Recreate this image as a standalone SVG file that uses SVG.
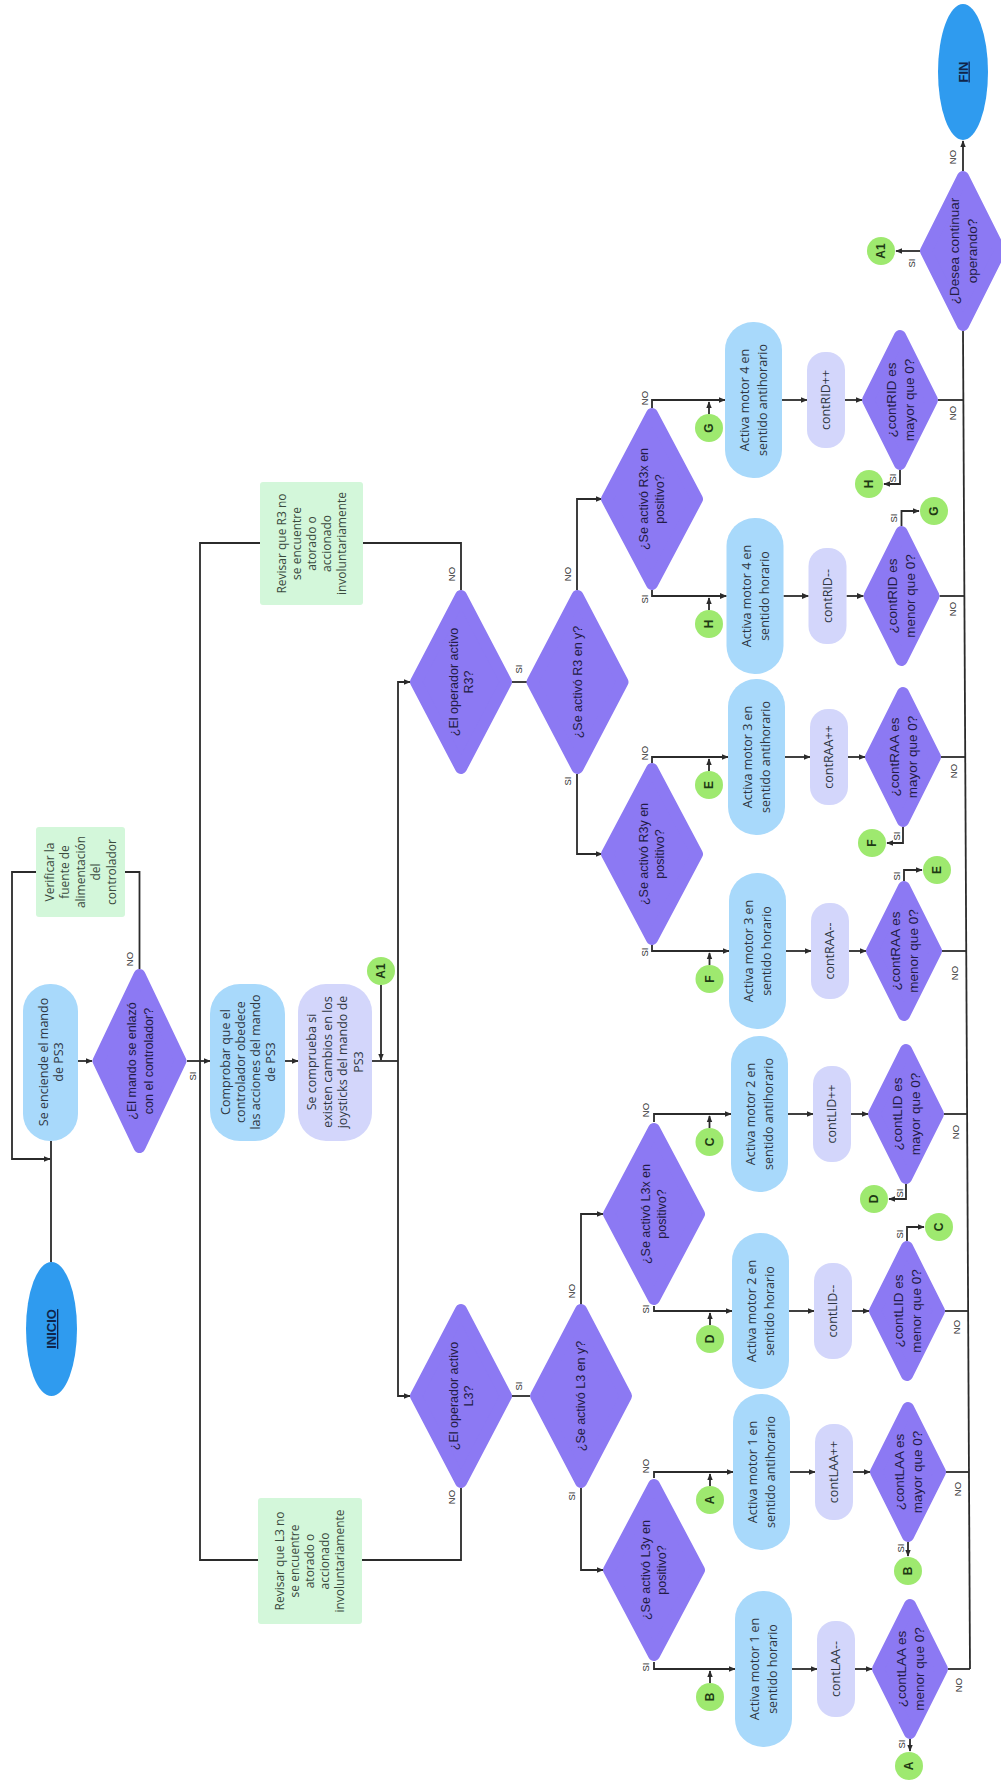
<svg xmlns="http://www.w3.org/2000/svg" width="1001" height="1791" viewBox="0 0 1001 1791">
<defs>
<marker id="ah" viewBox="0 0 10 10" refX="9" refY="5" markerWidth="4" markerHeight="4" orient="auto"><path d="M0,1 L10,5 L0,9 z" fill="#2b2b2b"/></marker>
<style>
.ln{fill:none;stroke:#2b2b2b;stroke-width:1.8}
.ar{fill:none;stroke:#2b2b2b;stroke-width:1.8;marker-end:url(#ah)}
.bl{fill:#a8d9fb}
.lv{fill:#d3d6fb}
.gr{fill:#d3f7da}
.dm{fill:#8c79f3;stroke:#8c79f3;stroke-width:12;stroke-linejoin:round}
.ci{fill:#9ee96f}
.el{fill:#2f9bef}
text{text-anchor:middle}
.t{font-family:"Open Sans","Liberation Sans",sans-serif;font-size:12.5px;fill:#2e3642}
.n{font-family:"Open Sans","Liberation Sans",sans-serif;font-size:12px;fill:#3a4a3e}
.d{font-family:"Liberation Sans",Arial,sans-serif;font-size:12.5px;fill:#231c45}
.dq{font-family:"Liberation Sans",Arial,sans-serif;font-size:13.5px;fill:#231c45}
.lb{font-family:"Liberation Sans",Arial,sans-serif;font-size:9.5px;fill:#333}
.c{font-family:"Liberation Sans",Arial,sans-serif;font-size:12px;font-weight:bold;fill:#1e3a14}
.se{font-family:"Liberation Sans",Arial,sans-serif;font-size:13px;font-weight:bold;fill:#10254a;text-decoration:underline}
</style>
</defs>
<rect width="1001" height="1791" fill="#ffffff"/>

<g id="connectors">
<path class="ln" d="M51,1262 V1141"/>
<path class="ar" d="M78,1061 H92"/>
<path class="ln" d="M139.5,969 V872 H125"/>
<path class="ar" d="M36,872 H12 V1159 H50"/>
<path class="ar" d="M187,1061 H210"/>
<path class="ar" d="M285,1061 H298"/>
<path class="ln" d="M372,1061 H398"/>
<path class="ar" d="M381,985 V1060"/>
<path class="ar" d="M398,1061 V682 H410"/>
<path class="ar" d="M398,1061 V1396 H410"/>
<path class="ln" d="M461,590 V543 H363"/>
<path class="ln" d="M260,543 H200 V1560 H258"/>
<path class="ln" d="M461,1488 V1560 H362"/>
<path class="ln" d="M512,682 H527"/>
<path class="ln" d="M512,1396 H530"/>
<path class="ar" d="M577,590 V499 H602"/>
<path class="ar" d="M577,774 V854 H602"/>
<path class="ar" d="M581,1305 V1214 H603"/>
<path class="ar" d="M581,1488 V1570 H603"/>
<path class="ar" d="M652,408 V400 H725"/>
<path class="ar" d="M652,590 V596 H726.5"/>
<path class="ar" d="M652,763 V757 H728"/>
<path class="ar" d="M652,945 V951 H729"/>
<path class="ar" d="M654,1122 V1114 H731"/>
<path class="ar" d="M654,1306 V1311 H732"/>
<path class="ar" d="M654,1478 V1472 H733"/>
<path class="ar" d="M654,1662 V1669 H735"/>
<path class="ar" d="M782,400 H807"/><path class="ar" d="M845,400 H862"/><path class="ln" d="M938,400 H963.4"/>
<path class="ar" d="M783.5,596 H808.5"/><path class="ar" d="M846.5,596 H863.5"/><path class="ln" d="M939.5,596 H964.4"/>
<path class="ar" d="M785,757 H810"/><path class="ar" d="M848,757 H865"/><path class="ln" d="M941,757 H965.2"/>
<path class="ar" d="M786,951 H811"/><path class="ar" d="M849,951 H866"/><path class="ln" d="M942,951 H966.2"/>
<path class="ar" d="M788,1114 H813"/><path class="ar" d="M851,1114 H868"/><path class="ln" d="M944,1114 H967.1"/>
<path class="ar" d="M789,1311 H814"/><path class="ar" d="M852,1311 H869"/><path class="ln" d="M945,1311 H968.1"/>
<path class="ar" d="M790,1472 H815"/><path class="ar" d="M853,1472 H870"/><path class="ln" d="M946,1472 H969"/>
<path class="ar" d="M792,1669 H817"/><path class="ar" d="M855,1669 H872"/><path class="ln" d="M948,1669 H970"/>
<path class="ar" d="M709,414 V402"/>
<path class="ar" d="M709,610 V598"/>
<path class="ar" d="M709,771 V759"/>
<path class="ar" d="M709.5,965 V953"/>
<path class="ar" d="M709.5,1128 V1116"/>
<path class="ar" d="M710,1325 V1313"/>
<path class="ar" d="M710,1486 V1474"/>
<path class="ar" d="M710,1683 V1671"/>
<path class="ar" d="M900,470 V484 H884"/>
<path class="ar" d="M901.5,526 V511 H919"/>
<path class="ar" d="M903,827 V843 H887"/>
<path class="ar" d="M904,881 V870 H922"/>
<path class="ar" d="M906,1184 V1199 H889"/>
<path class="ar" d="M907,1241 V1227 H924"/>
<path class="ar" d="M908,1542 V1556"/>
<path class="ar" d="M910,1739 V1751"/>
<path class="ln" d="M963,331 L970,1669"/>
<path class="ar" d="M963,171 V141"/>
<path class="ar" d="M920,251 H896"/>
</g>

<g id="labels">
<text class="lb" transform="translate(130,959) rotate(-90)" y="3.3">NO</text>
<text class="lb" transform="translate(193,1076) rotate(-90)" y="3.3">SI</text>
<text class="lb" transform="translate(452,574) rotate(-90)" y="3.3">NO</text>
<text class="lb" transform="translate(519,669) rotate(-90)" y="3.3">SI</text>
<text class="lb" transform="translate(568,574) rotate(-90)" y="3.3">NO</text>
<text class="lb" transform="translate(568,781) rotate(-90)" y="3.3">SI</text>
<text class="lb" transform="translate(452,1497) rotate(-90)" y="3.3">NO</text>
<text class="lb" transform="translate(519,1386) rotate(-90)" y="3.3">SI</text>
<text class="lb" transform="translate(572,1291) rotate(-90)" y="3.3">NO</text>
<text class="lb" transform="translate(572,1496) rotate(-90)" y="3.3">SI</text>
<text class="lb" transform="translate(645,398) rotate(-90)" y="3.3">NO</text>
<text class="lb" transform="translate(645,599) rotate(-90)" y="3.3">SI</text>
<text class="lb" transform="translate(645,753) rotate(-90)" y="3.3">NO</text>
<text class="lb" transform="translate(645,952) rotate(-90)" y="3.3">SI</text>
<text class="lb" transform="translate(646,1110) rotate(-90)" y="3.3">NO</text>
<text class="lb" transform="translate(646,1309) rotate(-90)" y="3.3">SI</text>
<text class="lb" transform="translate(646,1466) rotate(-90)" y="3.3">NO</text>
<text class="lb" transform="translate(646,1667) rotate(-90)" y="3.3">SI</text>
<text class="lb" transform="translate(953,413) rotate(-90)" y="3.3">NO</text>
<text class="lb" transform="translate(893,478) rotate(-90)" y="3.3">SI</text>
<text class="lb" transform="translate(894,518) rotate(-90)" y="3.3">SI</text>
<text class="lb" transform="translate(953,609) rotate(-90)" y="3.3">NO</text>
<text class="lb" transform="translate(954,771) rotate(-90)" y="3.3">NO</text>
<text class="lb" transform="translate(897,836) rotate(-90)" y="3.3">SI</text>
<text class="lb" transform="translate(897,876) rotate(-90)" y="3.3">SI</text>
<text class="lb" transform="translate(955,973) rotate(-90)" y="3.3">NO</text>
<text class="lb" transform="translate(956,1132) rotate(-90)" y="3.3">NO</text>
<text class="lb" transform="translate(900,1193) rotate(-90)" y="3.3">SI</text>
<text class="lb" transform="translate(900,1234) rotate(-90)" y="3.3">SI</text>
<text class="lb" transform="translate(957,1327) rotate(-90)" y="3.3">NO</text>
<text class="lb" transform="translate(958,1489) rotate(-90)" y="3.3">NO</text>
<text class="lb" transform="translate(901,1548) rotate(-90)" y="3.3">SI</text>
<text class="lb" transform="translate(959,1685) rotate(-90)" y="3.3">NO</text>
<text class="lb" transform="translate(902,1744) rotate(-90)" y="3.3">SI</text>
<text class="lb" transform="translate(953,157) rotate(-90)" y="3.3">NO</text>
<text class="lb" transform="translate(912,263) rotate(-90)" y="3.3">SI</text>
</g>

<g id="inicio"><ellipse class="el" cx="51.5" cy="1329" rx="25.5" ry="67"/><text class="se" transform="translate(51.5,1329) rotate(-90)" y="4.5">INICIO</text></g>
<g id="fin"><ellipse class="el" cx="963" cy="72" rx="25" ry="68"/><text class="se" transform="translate(963,72) rotate(-90)" y="4.5">FIN</text></g>

<g id="enciende"><rect class="bl" x="23" y="984" width="55" height="157" rx="27"/><text class="t" transform="translate(50.5,1062) rotate(-90)" font-size="13"><tspan x="0" y="-3">Se enciende el mando</tspan><tspan x="0" y="12">de PS3</tspan></text></g>
<g id="enlazo"><polygon class="dm" points="139.5,975 180.5,1061 139.5,1147 98.5,1061"/><text class="d" transform="translate(139.5,1061) rotate(-90)" font-size="13.5"><tspan x="0" y="-3.8">¿El mando se enlazó</tspan><tspan x="0" y="13.2">con el controlador?</tspan></text></g>
<g id="verificar"><rect class="gr" x="36" y="827" width="89" height="90" rx="3"/><text class="n" transform="translate(80.5,872) rotate(-90)"><tspan x="0" y="-26.8">Verificar la</tspan><tspan x="0" y="-11.3">fuente de</tspan><tspan x="0" y="4.2">alimentación</tspan><tspan x="0" y="19.7">del</tspan><tspan x="0" y="35.2">controlador</tspan></text></g>
<g id="comprobar"><rect class="bl" x="210" y="984" width="75" height="157" rx="30"/><text class="t" transform="translate(248.5,1062) rotate(-90)"><tspan x="0" y="-18.1">Comprobar que el</tspan><tspan x="0" y="-3.1">controlador obedece</tspan><tspan x="0" y="11.9">las acciones del mando</tspan><tspan x="0" y="26.9">de PS3</tspan></text></g>
<g id="comprueba"><rect class="lv" x="298" y="984" width="74" height="157" rx="28"/><text class="t" transform="translate(335,1062) rotate(-90)" font-size="12"><tspan x="0" y="-19">Se comprueba si</tspan><tspan x="0" y="-3.5">existen cambios en los</tspan><tspan x="0" y="12">joysticks del mando de</tspan><tspan x="0" y="27.5">PS3</tspan></text></g>
<g id="a1-top"><circle class="ci" cx="381" cy="971" r="14"/><text class="c" transform="translate(381,971) rotate(-90)" y="4.2">A1</text></g>
<g id="revisar-r3"><rect class="gr" x="260" y="482" width="103" height="123" rx="3"/><text class="n" transform="translate(311.5,543.5) rotate(-90)"><tspan x="0" y="-25.8">Revisar que R3 no</tspan><tspan x="0" y="-10.8">se encuentre</tspan><tspan x="0" y="4.2">atorado o</tspan><tspan x="0" y="19.2">accionado</tspan><tspan x="0" y="34.2">involuntariamente</tspan></text></g>
<g id="revisar-l3"><rect class="gr" x="258" y="1498" width="104" height="126" rx="3"/><text class="n" transform="translate(310,1561) rotate(-90)"><tspan x="0" y="-25.8">Revisar que L3 no</tspan><tspan x="0" y="-10.8">se encuentre</tspan><tspan x="0" y="4.2">atorado o</tspan><tspan x="0" y="19.2">accionado</tspan><tspan x="0" y="34.2">involuntariamente</tspan></text></g>

<g id="r3"><polygon class="dm" points="461,596 506,682 461,768 416,682"/><text class="d" transform="translate(461,682) rotate(-90)"><tspan x="0" y="-3.1">¿El operador activo</tspan><tspan x="0" y="11.9">R3?</tspan></text></g>
<g id="r3y-q"><polygon class="dm" points="577.5,596 622.5,682 577.5,768 532.5,682"/><text class="d" transform="translate(577.5,682) rotate(-90)" y="4.4">¿Se activó R3 en y?</text></g>
<g id="l3"><polygon class="dm" points="461,1310 506,1396 461,1482 416,1396"/><text class="d" transform="translate(461,1396) rotate(-90)"><tspan x="0" y="-3.1">¿El operador activo</tspan><tspan x="0" y="11.9">L3?</tspan></text></g>
<g id="l3y-q"><polygon class="dm" points="581,1310 626,1396 581,1482 536,1396"/><text class="d" transform="translate(581,1396) rotate(-90)" y="4.4">¿Se activó L3 en y?</text></g>

<g id="r3x"><polygon class="dm" points="652,414 697,499 652,584 607,499"/><text class="d" transform="translate(652,499) rotate(-90)"><tspan x="0" y="-3.6">¿Se activó R3x en</tspan><tspan x="0" y="12.4">positivo?</tspan></text></g>
<g id="r3y"><polygon class="dm" points="652,769 697,854 652,939 607,854"/><text class="d" transform="translate(652,854) rotate(-90)"><tspan x="0" y="-3.6">¿Se activó R3y en</tspan><tspan x="0" y="12.4">positivo?</tspan></text></g>
<g id="l3x"><polygon class="dm" points="654,1129 699,1214 654,1299 609,1214"/><text class="d" transform="translate(654,1214) rotate(-90)"><tspan x="0" y="-3.6">¿Se activó L3x en</tspan><tspan x="0" y="12.4">positivo?</tspan></text></g>
<g id="l3y"><polygon class="dm" points="654,1485 699,1570 654,1655 609,1570"/><text class="d" transform="translate(654,1570) rotate(-90)"><tspan x="0" y="-3.6">¿Se activó L3y en</tspan><tspan x="0" y="12.4">positivo?</tspan></text></g>

<g id="m4a"><rect class="bl" x="725" y="322" width="57" height="156" rx="28"/><text class="t" transform="translate(753.5,400) rotate(-90)" font-size="13"><tspan x="0" y="-4.5">Activa motor 4 en</tspan><tspan x="0" y="13.5">sentido antihorario</tspan></text></g>
<g id="cRIDinc"><rect class="lv" x="807" y="352" width="38" height="96" rx="18"/><text class="t" transform="translate(826,400) rotate(-90)" y="4.4">contRID++</text></g>
<g id="qRIDmay"><polygon class="dm" points="900,336 932,400 900,464 868,400"/><text class="dq" transform="translate(900,400) rotate(-90)"><tspan x="0" y="-4.3">¿contRID es</tspan><tspan x="0" y="13.7">mayor que 0?</tspan></text></g>
<g id="cG1"><circle class="ci" cx="709" cy="428" r="14"/><text class="c" transform="translate(709,428) rotate(-90)" y="4.2" font-size="11">G</text></g>
<g id="cH1"><circle class="ci" cx="869" cy="484" r="14"/><text class="c" transform="translate(869,484) rotate(-90)" y="4.2" font-size="11">H</text></g>

<g id="m4h"><rect class="bl" x="726.5" y="518" width="57" height="156" rx="28"/><text class="t" transform="translate(755,596) rotate(-90)" font-size="13"><tspan x="0" y="-4.5">Activa motor 4 en</tspan><tspan x="0" y="13.5">sentido horario</tspan></text></g>
<g id="cRIDdec"><rect class="lv" x="808.5" y="548" width="38" height="96" rx="18"/><text class="t" transform="translate(827.5,596) rotate(-90)" y="4.4">contRID--</text></g>
<g id="qRIDmen"><polygon class="dm" points="901.5,532 933.5,596 901.5,660 869.5,596"/><text class="dq" transform="translate(901.5,596) rotate(-90)"><tspan x="0" y="-4.3">¿contRID es</tspan><tspan x="0" y="13.7">menor que 0?</tspan></text></g>
<g id="cH2"><circle class="ci" cx="709" cy="624" r="14"/><text class="c" transform="translate(709,624) rotate(-90)" y="4.2" font-size="11">H</text></g>
<g id="cG2"><circle class="ci" cx="934" cy="511" r="14"/><text class="c" transform="translate(934,511) rotate(-90)" y="4.2" font-size="11">G</text></g>

<g id="m3a"><rect class="bl" x="728" y="679" width="57" height="156" rx="28"/><text class="t" transform="translate(756.5,757) rotate(-90)" font-size="13"><tspan x="0" y="-4.5">Activa motor 3 en</tspan><tspan x="0" y="13.5">sentido antihorario</tspan></text></g>
<g id="cRAAinc"><rect class="lv" x="810" y="709" width="38" height="96" rx="18"/><text class="t" transform="translate(829,757) rotate(-90)" y="4.4">contRAA++</text></g>
<g id="qRAAmay"><polygon class="dm" points="903,693 935,757 903,821 871,757"/><text class="dq" transform="translate(903,757) rotate(-90)"><tspan x="0" y="-4.3">¿contRAA es</tspan><tspan x="0" y="13.7">mayor que 0?</tspan></text></g>
<g id="cE1"><circle class="ci" cx="709" cy="785" r="14"/><text class="c" transform="translate(709,785) rotate(-90)" y="4.2" font-size="11">E</text></g>
<g id="cF1"><circle class="ci" cx="872" cy="843" r="14"/><text class="c" transform="translate(872,843) rotate(-90)" y="4.2" font-size="11">F</text></g>

<g id="m3h"><rect class="bl" x="729" y="873" width="57" height="156" rx="28"/><text class="t" transform="translate(757.5,951) rotate(-90)" font-size="13"><tspan x="0" y="-4.5">Activa motor 3 en</tspan><tspan x="0" y="13.5">sentido horario</tspan></text></g>
<g id="cRAAdec"><rect class="lv" x="811" y="903" width="38" height="96" rx="18"/><text class="t" transform="translate(830,951) rotate(-90)" y="4.4">contRAA--</text></g>
<g id="qRAAmen"><polygon class="dm" points="904,887 936,951 904,1015 872,951"/><text class="dq" transform="translate(904,951) rotate(-90)"><tspan x="0" y="-4.3">¿contRAA es</tspan><tspan x="0" y="13.7">menor que 0?</tspan></text></g>
<g id="cF2"><circle class="ci" cx="709.5" cy="979" r="14"/><text class="c" transform="translate(709.5,979) rotate(-90)" y="4.2" font-size="11">F</text></g>
<g id="cE2"><circle class="ci" cx="937" cy="870" r="14"/><text class="c" transform="translate(937,870) rotate(-90)" y="4.2" font-size="11">E</text></g>

<g id="m2a"><rect class="bl" x="731" y="1036" width="57" height="156" rx="28"/><text class="t" transform="translate(759.5,1114) rotate(-90)" font-size="13"><tspan x="0" y="-4.5">Activa motor 2 en</tspan><tspan x="0" y="13.5">sentido antihorario</tspan></text></g>
<g id="cLIDinc"><rect class="lv" x="813" y="1066" width="38" height="96" rx="18"/><text class="t" transform="translate(832,1114) rotate(-90)" y="4.4">contLID++</text></g>
<g id="qLIDmay"><polygon class="dm" points="906,1050 938,1114 906,1178 874,1114"/><text class="dq" transform="translate(906,1114) rotate(-90)"><tspan x="0" y="-4.3">¿contLID es</tspan><tspan x="0" y="13.7">mayor que 0?</tspan></text></g>
<g id="cC1"><circle class="ci" cx="709.5" cy="1142" r="14"/><text class="c" transform="translate(709.5,1142) rotate(-90)" y="4.2" font-size="11">C</text></g>
<g id="cD1"><circle class="ci" cx="874" cy="1199" r="14"/><text class="c" transform="translate(874,1199) rotate(-90)" y="4.2" font-size="11">D</text></g>

<g id="m2h"><rect class="bl" x="732" y="1233" width="57" height="156" rx="28"/><text class="t" transform="translate(760.5,1311) rotate(-90)" font-size="13"><tspan x="0" y="-4.5">Activa motor 2 en</tspan><tspan x="0" y="13.5">sentido horario</tspan></text></g>
<g id="cLIDdec"><rect class="lv" x="814" y="1263" width="38" height="96" rx="18"/><text class="t" transform="translate(833,1311) rotate(-90)" y="4.4">contLID--</text></g>
<g id="qLIDmen"><polygon class="dm" points="907,1247 939,1311 907,1375 875,1311"/><text class="dq" transform="translate(907,1311) rotate(-90)"><tspan x="0" y="-4.3">¿contLID es</tspan><tspan x="0" y="13.7">menor que 0?</tspan></text></g>
<g id="cD2"><circle class="ci" cx="710" cy="1339" r="14"/><text class="c" transform="translate(710,1339) rotate(-90)" y="4.2" font-size="11">D</text></g>
<g id="cC2"><circle class="ci" cx="939" cy="1227" r="14"/><text class="c" transform="translate(939,1227) rotate(-90)" y="4.2" font-size="11">C</text></g>

<g id="m1a"><rect class="bl" x="733" y="1394" width="57" height="156" rx="28"/><text class="t" transform="translate(761.5,1472) rotate(-90)" font-size="13"><tspan x="0" y="-4.5">Activa motor 1 en</tspan><tspan x="0" y="13.5">sentido antihorario</tspan></text></g>
<g id="cLAAinc"><rect class="lv" x="815" y="1424" width="38" height="96" rx="18"/><text class="t" transform="translate(834,1472) rotate(-90)" y="4.4">contLAA++</text></g>
<g id="qLAAmay"><polygon class="dm" points="908,1408 940,1472 908,1536 876,1472"/><text class="dq" transform="translate(908,1472) rotate(-90)"><tspan x="0" y="-4.3">¿contLAA es</tspan><tspan x="0" y="13.7">mayor que 0?</tspan></text></g>
<g id="cA1"><circle class="ci" cx="710" cy="1500" r="14"/><text class="c" transform="translate(710,1500) rotate(-90)" y="4.2" font-size="11">A</text></g>
<g id="cB1"><circle class="ci" cx="908" cy="1571" r="14"/><text class="c" transform="translate(908,1571) rotate(-90)" y="4.2" font-size="11">B</text></g>

<g id="m1h"><rect class="bl" x="735" y="1591" width="57" height="156" rx="28"/><text class="t" transform="translate(763.5,1669) rotate(-90)" font-size="13"><tspan x="0" y="-4.5">Activa motor 1 en</tspan><tspan x="0" y="13.5">sentido horario</tspan></text></g>
<g id="cLAAdec"><rect class="lv" x="817" y="1621" width="38" height="96" rx="18"/><text class="t" transform="translate(836,1669) rotate(-90)" y="4.4">contLAA--</text></g>
<g id="qLAAmen"><polygon class="dm" points="910,1605 942,1669 910,1733 878,1669"/><text class="dq" transform="translate(910,1669) rotate(-90)"><tspan x="0" y="-4.3">¿contLAA es</tspan><tspan x="0" y="13.7">menor que 0?</tspan></text></g>
<g id="cB2"><circle class="ci" cx="710" cy="1697" r="14"/><text class="c" transform="translate(710,1697) rotate(-90)" y="4.2" font-size="11">B</text></g>
<g id="cA2"><circle class="ci" cx="909" cy="1766" r="14"/><text class="c" transform="translate(909,1766) rotate(-90)" y="4.2" font-size="11">A</text></g>

<g id="desea"><polygon class="dm" points="963,177 1000,251 963,325 926,251"/><text class="dq" transform="translate(963,251) rotate(-90)" font-size="13"><tspan x="0" y="-4.5">¿Desea continuar</tspan><tspan x="0" y="13.5">operando?</tspan></text></g>
<g id="a1-end"><circle class="ci" cx="881" cy="251" r="14"/><text class="c" transform="translate(881,251) rotate(-90)" y="4.2">A1</text></g>
</svg>
